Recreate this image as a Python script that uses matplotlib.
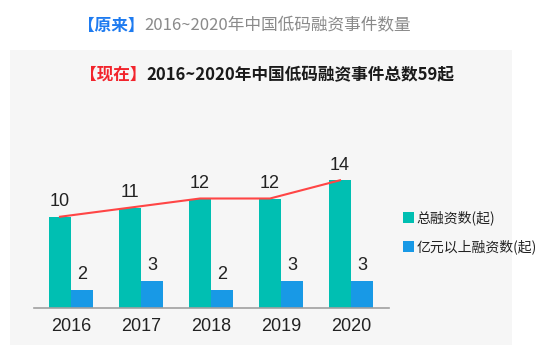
import matplotlib
matplotlib.use("Agg")
import matplotlib.pyplot as plt
from matplotlib.patches import Rectangle
import numpy as np

plt.rcParams['font.family'] = ['Noto Sans CJK SC', 'DejaVu Sans']

# data
years = ['2016', '2017', '2018', '2019', '2020']
total = [10, 11, 12, 12, 14]
big = [2, 3, 2, 3, 3]
legend_labels = ['总融资数(起)', '亿元以上融资数(起)']

teal = '#00BFB2'
blue = '#1899E6'
red = '#FF4545'
W, H = 548, 355

fig = plt.figure(figsize=(W / 100, H / 100), dpi=100)
fig.patch.set_facecolor('white')

# gray panel
fig.patches.append(Rectangle((10 / W, 1 - 345 / H), 502 / W, 295 / H,
                             transform=fig.transFigure, facecolor='#F6F6F6',
                             edgecolor='none', zorder=-5))

# titles (two-colour pieces)
fig.canvas.draw()
r = fig.canvas.get_renderer()
t1 = fig.text(78 / W, 1 - 26 / H, '【原来】', color='#1E7BF0', fontsize=12,
              fontweight='bold', va='center', ha='left')
bb = t1.get_window_extent(r)
fig.text(bb.x1 / W, 1 - 26 / H, '2016~2020年中国低码融资事件数量', color='#8A8A8A',
         fontsize=12, va='center', ha='left')

t2 = fig.text(80 / W, 1 - 75 / H, '【现在】', color='#F2242C', fontsize=12,
              fontweight='bold', va='center', ha='left')
bb2 = t2.get_window_extent(r)
fig.text(bb2.x1 / W, 1 - 75 / H, '2016~2020年中国低码融资事件总数59起', color='#1A1A1A',
         fontsize=12, fontweight='bold', va='center', ha='left')

# axes
ax = fig.add_axes([34 / W, 1 - 308 / H, 355 / W, 146 / H])
ax.set_facecolor('none')
x = np.arange(len(years))
bw = 22 / 70
b1 = ax.bar(x - bw / 2, total, bw, color=teal, label=legend_labels[0], zorder=2)
b2 = ax.bar(x + bw / 2, big, bw, color=blue, label=legend_labels[1], zorder=2)
ax.plot(x - bw / 2, total, color=red, lw=1.5, zorder=3)

num_font = ['Liberation Sans', 'DejaVu Sans']
for xi, v in zip(x, total):
    ax.text(xi - bw / 2, v + 0.7, str(v), ha='center', va='bottom', fontsize=13,
            color='#222222', family=num_font)
for xi, v in zip(x, big):
    ax.text(xi + bw / 2, v + 0.7, str(v), ha='center', va='bottom', fontsize=13,
            color='#222222', family=num_font)

ax.set_xlim(-37 / 70, 318 / 70)
ax.set_ylim(0, 16)
ax.set_xticks(x)
ax.set_xticklabels(years, fontsize=13, color='#222222', family=num_font)
ax.tick_params(axis='x', length=0, pad=7)
ax.set_yticks([])
for s in ['top', 'right', 'left']:
    ax.spines[s].set_visible(False)
ax.spines['bottom'].set_color('#A0A0A0')
ax.spines['bottom'].set_linewidth(1.2)

leg = fig.legend(handles=[b1, b2], labels=legend_labels, loc='upper left',
                 bbox_to_anchor=(390 / W, 1 - 198 / H), frameon=False,
                 fontsize=10, handlelength=0.8, handleheight=0.8,
                 handletextpad=0.2, labelspacing=1.0)
for t in leg.get_texts():
    t.set_color('#222222')

fig.savefig('out.png', dpi=100, facecolor='white')
